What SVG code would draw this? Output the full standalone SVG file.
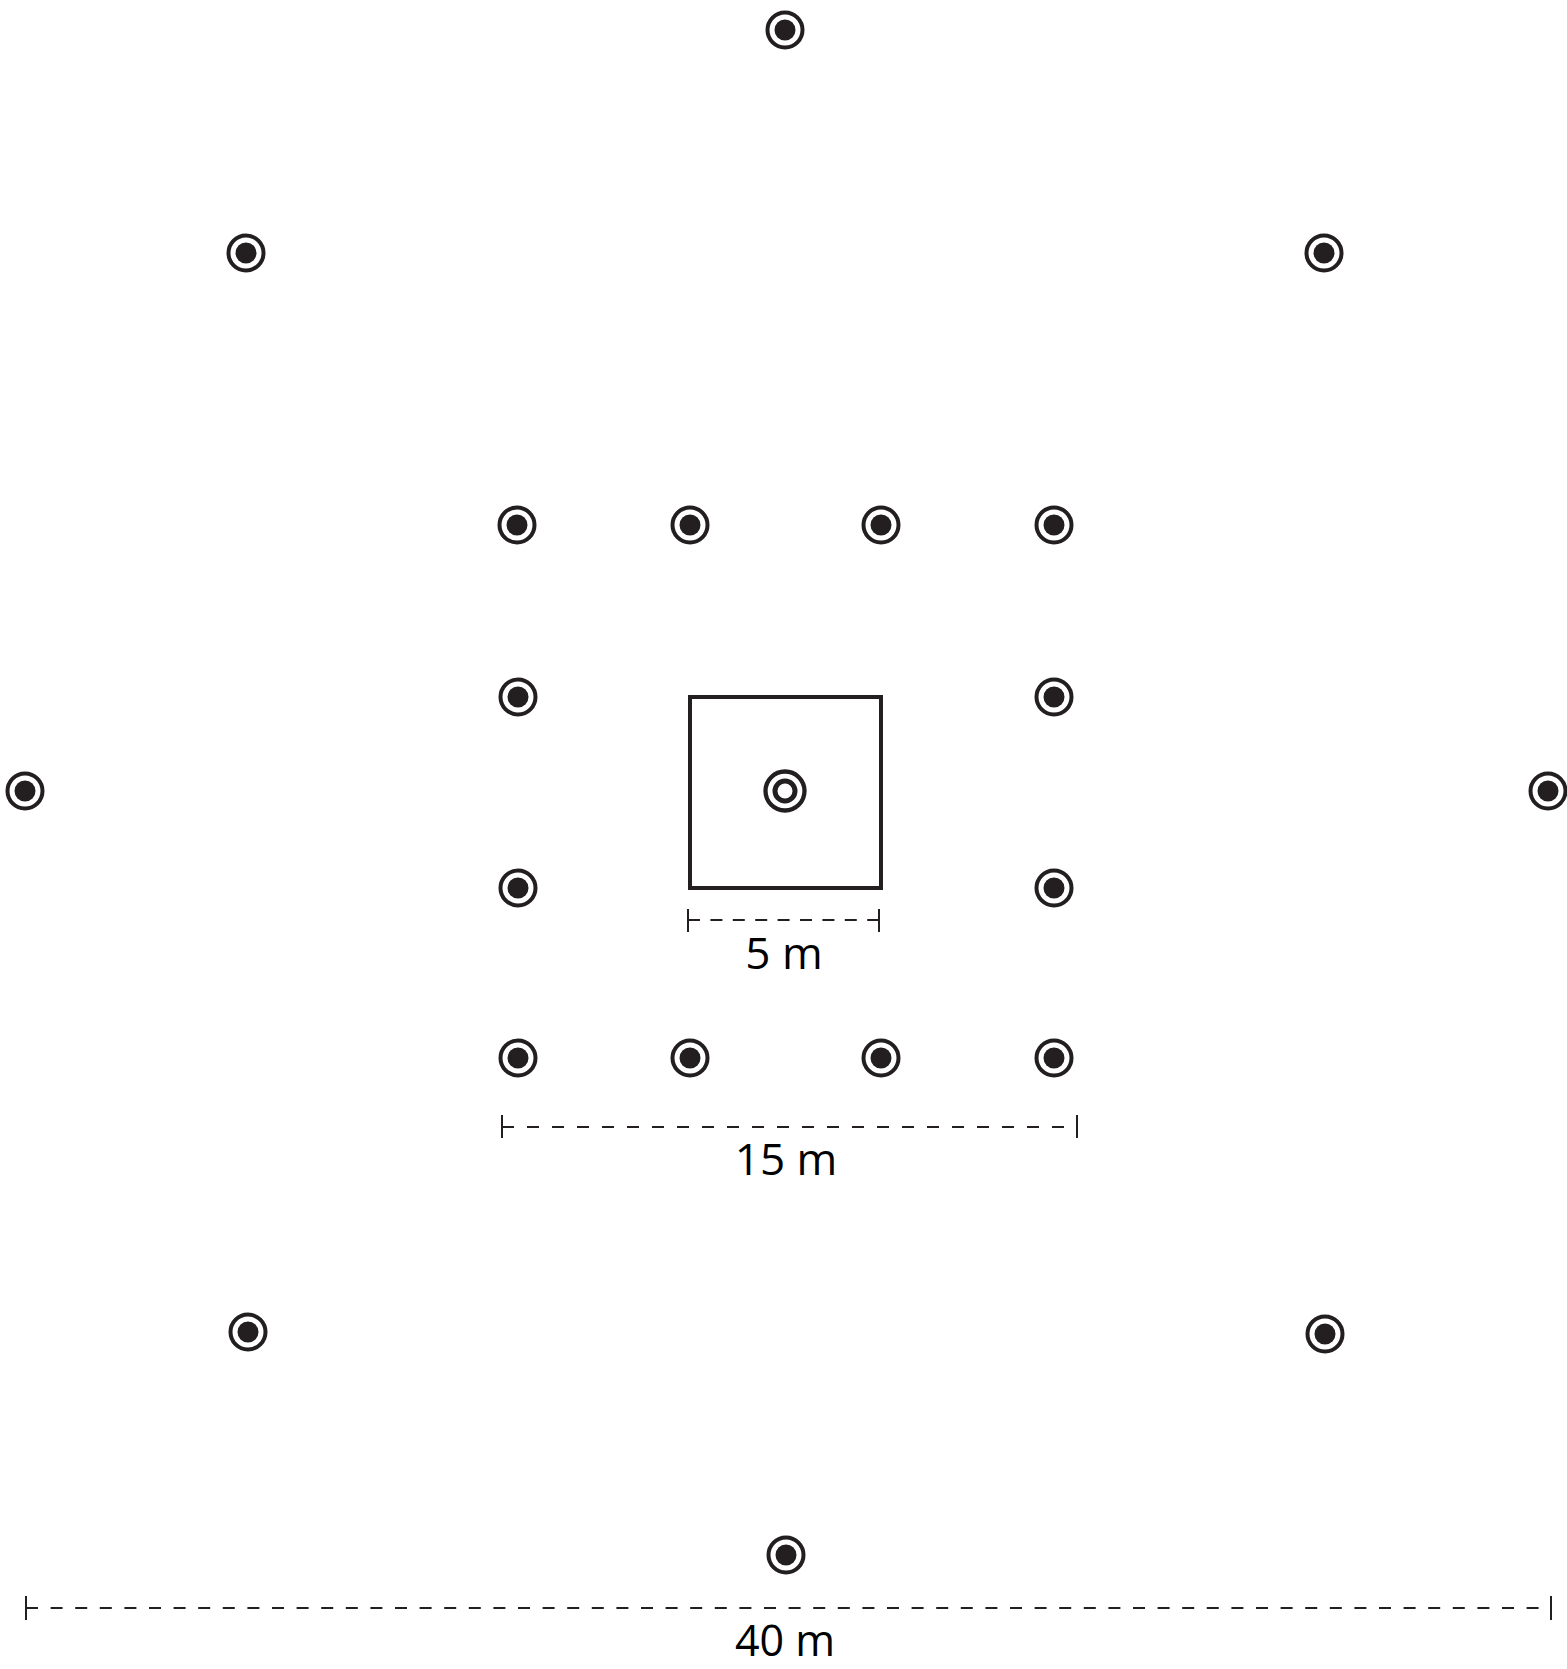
<svg xmlns="http://www.w3.org/2000/svg" width="1567" height="1669" viewBox="0 0 1567 1669">
<defs>
<style>
.ring{fill:#fff;stroke:#231f20;stroke-width:4}
.dot{fill:#231f20}
.dim{stroke:#231f20;stroke-width:2;fill:none}
.tick{stroke:#231f20;stroke-width:2}
.lbl{font-family:"Open Sans","Noto Sans",sans-serif;font-size:44px;fill:#000;text-anchor:middle}
</style>
<g id="pt">
<circle class="ring" r="17.5"/>
<circle class="dot" r="10.5"/>
</g>
</defs>
<rect width="1567" height="1669" fill="#fff"/>
<g id="plot">
<rect x="690" y="697" width="191" height="191" fill="none" stroke="#231f20" stroke-width="4"/>
</g>
<g id="center">
<circle cx="785" cy="791" r="19.5" fill="#fff" stroke="#231f20" stroke-width="4.3"/>
<circle cx="785" cy="791" r="10" fill="#fff" stroke="#231f20" stroke-width="5"/>
</g>
<g id="n-top"><use href="#pt" x="785" y="30"/></g>
<g id="n-nw"><use href="#pt" x="246" y="253"/></g>
<g id="n-ne"><use href="#pt" x="1324" y="253"/></g>
<g id="n-r1a"><use href="#pt" x="517" y="525"/></g>
<g id="n-r1b"><use href="#pt" x="690" y="525"/></g>
<g id="n-r1c"><use href="#pt" x="881" y="525"/></g>
<g id="n-r1d"><use href="#pt" x="1054" y="525"/></g>
<g id="n-r2a"><use href="#pt" x="518" y="697"/></g>
<g id="n-r2d"><use href="#pt" x="1054" y="697"/></g>
<g id="n-w"><use href="#pt" x="25" y="791"/></g>
<g id="n-e"><use href="#pt" x="1548" y="791"/></g>
<g id="n-r3a"><use href="#pt" x="518" y="888"/></g>
<g id="n-r3d"><use href="#pt" x="1054" y="888"/></g>
<g id="n-r4a"><use href="#pt" x="518" y="1058"/></g>
<g id="n-r4b"><use href="#pt" x="690" y="1058"/></g>
<g id="n-r4c"><use href="#pt" x="881" y="1058"/></g>
<g id="n-r4d"><use href="#pt" x="1054" y="1058"/></g>
<g id="n-sw"><use href="#pt" x="248" y="1332"/></g>
<g id="n-se"><use href="#pt" x="1325" y="1334"/></g>
<g id="n-bottom"><use href="#pt" x="786" y="1555"/></g>
<g id="dimensions">
<line class="dim" x1="688" y1="920" x2="879" y2="920" stroke-dasharray="12 10.4"/>
<line class="tick" x1="688" y1="909" x2="688" y2="932"/>
<line class="tick" x1="879" y1="909" x2="879" y2="932"/>
<text class="lbl" x="784" y="969">5 m</text>
<line class="dim" x1="502" y1="1127" x2="1077" y2="1127" stroke-dasharray="12 13"/>
<line class="tick" x1="502" y1="1115" x2="502" y2="1138"/>
<line class="tick" x1="1077" y1="1115" x2="1077" y2="1138"/>
<text class="lbl" x="786" y="1175">15 m</text>
<line class="dim" x1="26" y1="1608" x2="1551" y2="1608" stroke-dasharray="12 12.6"/>
<line class="tick" x1="26" y1="1596" x2="26" y2="1620"/>
<line class="tick" x1="1551" y1="1596" x2="1551" y2="1620"/>
<text class="lbl" x="785" y="1656" style="font-size:43px">40 m</text>
</g>
</svg>
